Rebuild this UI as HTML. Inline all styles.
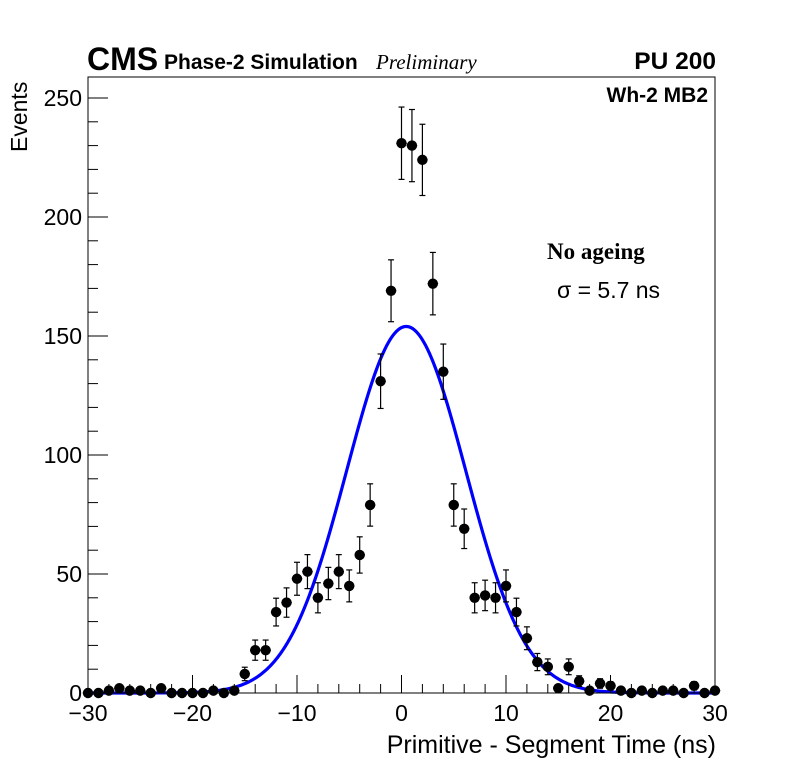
<!DOCTYPE html>
<html><head><meta charset="utf-8"><style>
html,body{margin:0;padding:0;background:#fff;}
svg{display:block;font-family:"Liberation Sans",sans-serif;}
</style></head><body>
<svg id="chart" width="796" height="772" xmlns="http://www.w3.org/2000/svg">
<rect width="796" height="772" fill="#fff"/>
<g id="marks"></g>
<rect x="88" y="77" width="627" height="616" fill="none" stroke="#000" stroke-width="1"/>
<g id="axes"></g>
<text x="87" y="70" font-size="32" font-weight="bold">CMS</text>
<text x="164" y="69" font-size="21" font-weight="bold">Phase-2 Simulation</text>
<text x="376" y="69" font-size="21" font-style="italic" font-family="Liberation Serif, serif">Preliminary</text>
<text x="716" y="69" font-size="24.5" font-weight="bold" text-anchor="end">PU 200</text>
<text x="708" y="102" font-size="21" font-weight="bold" text-anchor="end">Wh-2 MB2</text>
<text x="547" y="259" font-size="23" font-weight="bold" font-family="Liberation Serif, serif">No ageing</text>
<text x="557" y="298" font-size="23">σ = 5.7 ns</text>
<text x="716" y="753" font-size="25" text-anchor="end">Primitive - Segment Time (ns)</text>
<text transform="translate(27,152) rotate(-90)" font-size="23">Events</text>
</svg>
<script>
const xCenters = [-30,-29,-28,-27,-26,-25,-24,-23,-22,-21,-20,-19,-18,-17,-16,-15,-14,-13,-12,-11,-10,-9,-8,-7,-6,-5,-4,-3,-2,-1,0,1,2,3,4,5,6,7,8,9,10,11,12,13,14,15,16,17,18,19,20,21,22,23,24,25,26,27,28,29,30];
const counts = [0,0,1,2,1,1,0,2,0,0,0,0,1,0,1,8,18,18,34,38,48,51,40,46,51,45,58,79,131,169,231,230,224,172,135,79,69,40,41,40,45,34,23,13,11,2,11,5,1,4,3,1,0,1,0,1,1,0,3,0,1];
const fitParams = [154, 0.45, 5.7];
const xTicks = [-30,-20,-10,0,10,20,30];
const xTickLabels = ["\u221230","\u221220","\u221210","0","10","20","30"];
const yTicks = [0,50,100,150,200,250];
const yTickLabels = ["0","50","100","150","200","250"];

const NS="http://www.w3.org/2000/svg";
const X=v=>88+(v+30)*627/60;
const Y=v=>693-v*2.38;
function mk(tag,attrs,parent){const e=document.createElementNS(NS,tag);for(const k in attrs)e.setAttribute(k,attrs[k]);parent.appendChild(e);return e;}
const marks=document.getElementById('marks'), axes=document.getElementById('axes');

let d="";
for(let i=0;i<=600;i++){const x=-30+i*0.1;const y=fitParams[0]*Math.exp(-Math.pow(x-fitParams[1],2)/(2*fitParams[2]*fitParams[2]));d+=(i?"L":"M")+X(x).toFixed(2)+","+Y(y).toFixed(2);}
const fit=mk('path',{d:d,fill:'none',stroke:'#0000ff','stroke-width':3.2},marks);



xCenters.forEach((xc,i)=>{
  const v=counts[i];const g=mk('g',{},marks);
  
  
  const cx=X(xc),cy=Y(v);
  if(v>0){const e=Math.sqrt(v);
    mk('line',{x1:cx,x2:cx,y1:Y(v+e),y2:Y(v-e),stroke:'#000','stroke-width':1.2},g);
    mk('line',{x1:cx-3,x2:cx+3,y1:Y(v+e),y2:Y(v+e),stroke:'#000','stroke-width':1.2},g);
    mk('line',{x1:cx-3,x2:cx+3,y1:Y(v-e),y2:Y(v-e),stroke:'#000','stroke-width':1.2},g);}
  mk('line',{x1:X(xc-0.5),x2:X(xc+0.5),y1:cy,y2:cy,stroke:'#000','stroke-width':1.2},g);
  mk('circle',{cx:cx,cy:cy,r:5.2,fill:'#000'},g);
});

for(let v=-30;v<=30;v+=2){const major=v%10===0;
  mk('line',{x1:X(v),x2:X(v),y1:693,y2:693-(major?18:9),stroke:'#000','stroke-width':1},axes);}
xTicks.forEach((v,i)=>{const t=mk('text',{x:X(v),y:721,'font-size':23,'text-anchor':'middle'},axes);t.textContent=xTickLabels[i];
  
  });
for(let v=0;v<=250;v+=10){const major=v%50===0;
  mk('line',{x1:88,x2:88+(major?20:10),y1:Y(v),y2:Y(v),stroke:'#000','stroke-width':1},axes);}
yTicks.forEach((v,i)=>{const t=mk('text',{x:82,y:Y(v)+8,'font-size':23,'text-anchor':'end'},axes);t.textContent=yTickLabels[i];
  
  });
</script>
</body></html>
